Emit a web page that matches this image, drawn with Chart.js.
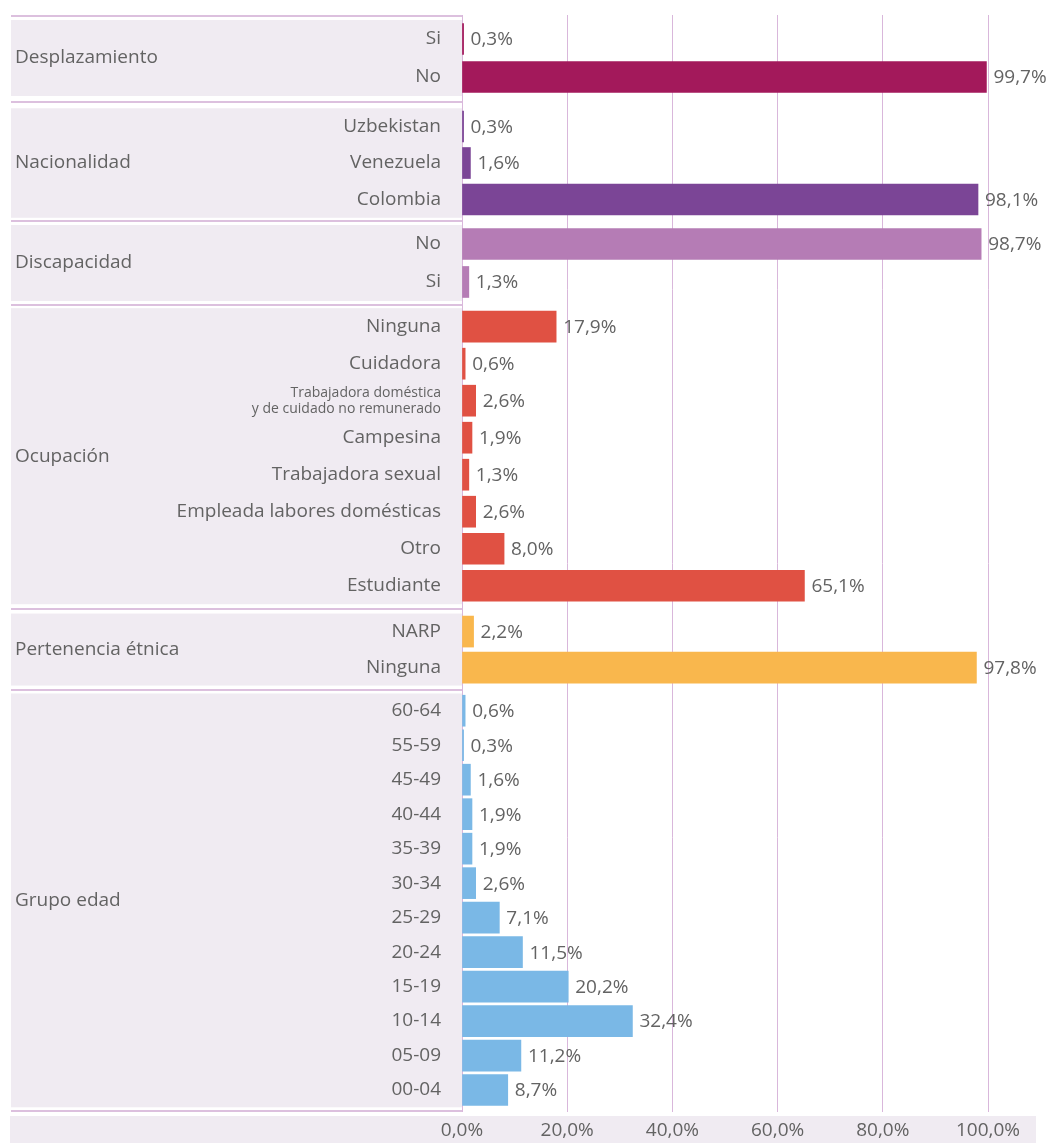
<!DOCTYPE html>
<html lang="es">
<head>
  <meta charset="UTF-8" />
  <title>Caracterización</title>
  <script src="https://cdn.jsdelivr.net/npm/chart.js"></script>
  <style>
    html, body { margin: 0; padding: 0; background: #fff; }
    #wrap { position: relative; width: 1052px; height: 1143px; }
  </style>
</head>
<body>
  <div id="wrap"><canvas id="chart"></canvas></div>

  <script>
    // Grupos y categorías (de arriba a abajo)
    const groups = ['Desplazamiento', 'Nacionalidad', 'Discapacidad', 'Ocupación', 'Pertenencia étnica', 'Grupo edad'];
    const colors = ['#A3195B', '#7B4596', '#B57CB5', '#E05143', '#F9B74D', '#7AB8E6'];

    const desplazamiento = ['Si', 'No'];
    const desplazamientoVals = [0.3, 99.7];

    const nacionalidad = ['Uzbekistan', 'Venezuela', 'Colombia'];
    const nacionalidadVals = [0.3, 1.6, 98.1];

    const discapacidad = ['No', 'Si'];
    const discapacidadVals = [98.7, 1.3];

    const ocupacion = ['Ninguna', 'Cuidadora', ['Trabajadora doméstica', 'y de cuidado no remunerado'], 'Campesina',
      'Trabajadora sexual', 'Empleada labores domésticas', 'Otro', 'Estudiante'];
    const ocupacionVals = [17.9, 0.6, 2.6, 1.9, 1.3, 2.6, 8.0, 65.1];

    const etnia = ['NARP', 'Ninguna'];
    const etniaVals = [2.2, 97.8];

    const edad = ['60-64', '55-59', '45-49', '40-44', '35-39', '30-34', '25-29', '20-24', '15-19', '10-14', '05-09', '00-04'];
    const edadVals = [0.6, 0.3, 1.6, 1.9, 1.9, 2.6, 7.1, 11.5, 20.2, 32.4, 11.2, 8.7];

    const xTicks = [0, 20, 40, 60, 80, 100];

    const groupLabels = [desplazamiento, nacionalidad, discapacidad, ocupacion, etnia, edad];
    const groupVals = [desplazamientoVals, nacionalidadVals, discapacidadVals, ocupacionVals, etniaVals, edadVals];

    // layout: alto relativo de fila en cada grupo y hueco antes de cada grupo
    const rowStep = [1.056, 1.014, 1.056, 1.028, 1.0, 0.958];
    const gapBefore = [0, 0.34, 0.2, 0.2, 0.26, 0.22];

    const rows = [];
    const spans = [];
    let pos = 0;
    groupLabels.forEach((labels, g) => {
      if (g > 0) pos += rowStep[g - 1] / 2 + gapBefore[g] + rowStep[g] / 2;
      const first = pos;
      labels.forEach((lab, i) => {
        if (i > 0) pos += rowStep[g];
        rows.push({ y: pos, x: groupVals[g][i], label: lab, color: colors[g] });
      });
      spans.push({ name: groups[g], from: first, to: pos, half: rowStep[g] / 2 });
    });
    const lastPos = pos;

    const fmt = v => v.toFixed(1).replace('.', ',') + '%';
    const FONT = '"Open Sans", "Noto Sans", sans-serif';
    const TXT = '#636363';
    const BAND = '#F0EBF2';
    const LINE = '#DCC0DE';

    const panelPlugin = {
      id: 'panel',
      beforeDraw(chart) {
        const { ctx, chartArea, scales: { y } } = chart;
        const L = 11, R = chartArea.left;
        ctx.save();
        // bandas de cada grupo
        spans.forEach(s => {
          const top = y.getPixelForValue(s.from - s.half);
          const bot = y.getPixelForValue(s.to + s.half);
          ctx.fillStyle = BAND;
          ctx.fillRect(L, top, R - L, bot - top);
        });
        // líneas separadoras
        ctx.strokeStyle = LINE;
        ctx.lineWidth = 2;
        const seps = [chartArea.top + 1];
        for (let i = 1; i < spans.length; i++) {
          const a = y.getPixelForValue(spans[i - 1].to + spans[i - 1].half);
          const b = y.getPixelForValue(spans[i].from - spans[i].half);
          seps.push((a + b) / 2);
        }
        seps.push(chartArea.bottom - 1);
        seps.forEach(py => {
          ctx.beginPath();
          ctx.moveTo(L, Math.round(py));
          ctx.lineTo(R, Math.round(py));
          ctx.stroke();
        });
        // banda del eje x
        ctx.fillStyle = BAND;
        ctx.fillRect(10, chartArea.bottom + 4, 1036 - 10, chart.height - chartArea.bottom - 4);
        ctx.restore();
      },
      afterDraw(chart) {
        const { ctx, scales: { y } } = chart;
        ctx.save();
        ctx.fillStyle = TXT;
        ctx.textBaseline = 'middle';
        const big = '500 19px ' + FONT;
        // nombres de grupo
        ctx.textAlign = 'left';
        ctx.font = big;
        spans.forEach(s => {
          ctx.fillText(s.name, 15, y.getPixelForValue((s.from + s.to) / 2));
        });
        // categorías
        ctx.textAlign = 'right';
        rows.forEach(r => {
          const py = y.getPixelForValue(r.y);
          if (Array.isArray(r.label)) {
            ctx.font = '500 14px ' + FONT;
            ctx.fillText(r.label[0], 441, py - 8);
            ctx.fillText(r.label[1], 441, py + 8);
            ctx.font = big;
          } else {
            ctx.fillText(r.label, 441, py);
          }
        });
        // valores
        ctx.textAlign = 'left';
        const meta = chart.getDatasetMeta(0);
        meta.data.forEach((bar, i) => {
          ctx.fillText(fmt(rows[i].x), bar.x + 7, bar.y + 1);
        });
        ctx.restore();
      }
    };

    new Chart(document.getElementById('chart'), {
      type: 'bar',
      data: {
        datasets: [{
          data: rows.map(r => ({ x: r.x, y: r.y })),
          backgroundColor: rows.map(r => r.color),
          barThickness: 31,
          borderWidth: 0
        }]
      },
      options: {
        indexAxis: 'y',
        responsive: true,
        maintainAspectRatio: false,
        animation: false,
        layout: { padding: { left: 462, right: 64, top: 15, bottom: 0 } },
        plugins: { legend: { display: false }, tooltip: { enabled: false } },
        scales: {
          x: {
            type: 'linear',
            min: 0,
            max: 100,
            afterBuildTicks: s => { s.ticks = xTicks.map(v => ({ value: v })); },
            afterFit: s => { s.height = 31; },
            border: { display: false },
            grid: { color: '#D9B7DB', lineWidth: 1, drawTicks: false },
            ticks: {
              padding: 7,
              color: TXT,
              font: { family: FONT, size: 19, weight: '500' },
              callback: v => fmt(v)
            }
          },
          y: {
            type: 'linear',
            reverse: true,
            offset: false,
            min: -0.667,
            max: lastPos + 0.61,
            display: false
          }
        }
      },
      plugins: [panelPlugin]
    });
  </script>
</body>
</html>
